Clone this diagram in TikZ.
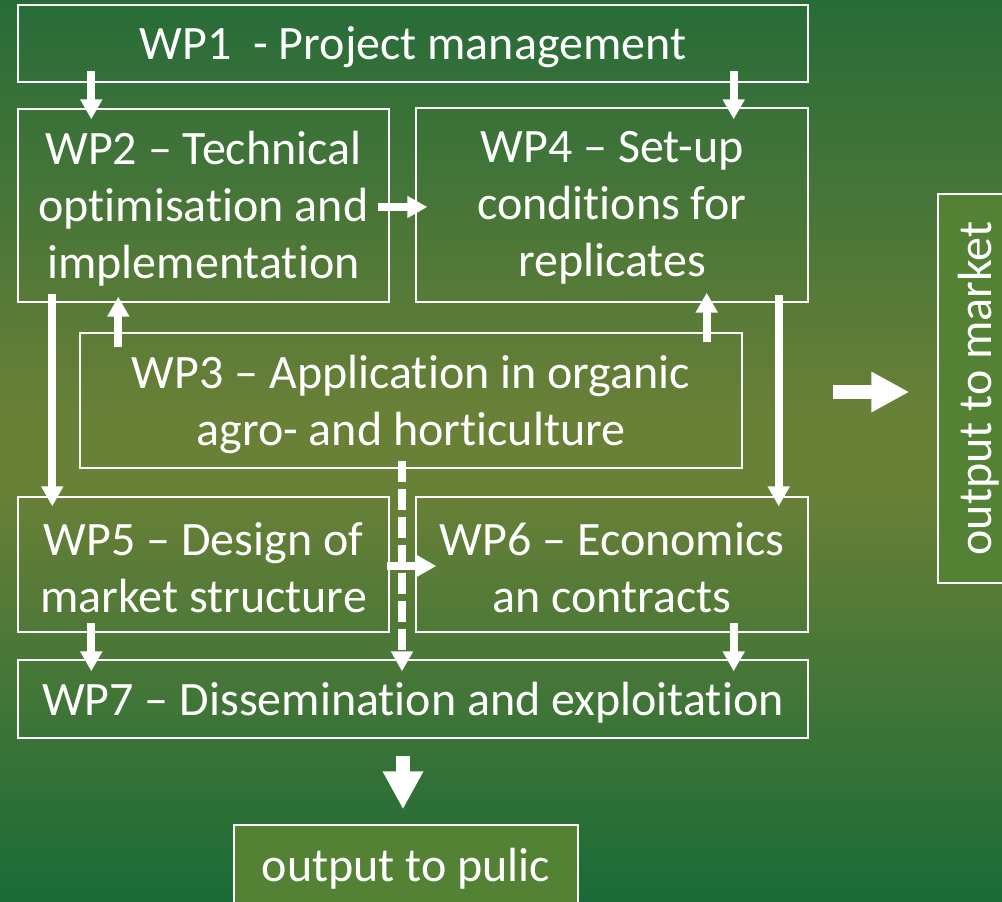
\documentclass[tikz,border=0pt]{standalone}
\usepackage{fontspec}
\setmainfont{Carlito}[RawFeature={-liga;-dlig;-clig}]
\usetikzlibrary{arrows.meta,calc}
\definecolor{bgtop}{RGB}{39,108,56}
\definecolor{bgmid}{RGB}{105,128,55}
\definecolor{bgbot}{RGB}{26,107,55}
\definecolor{outfill}{RGB}{84,130,53}
\pgfdeclareverticalshading{bgshade}{100bp}{color(0bp)=(bgbot); color(25bp)=(bgbot); color(47.8bp)=(bgmid); color(52bp)=(bgmid); color(75bp)=(bgtop); color(100bp)=(bgtop)}
\begin{document}
\begin{tikzpicture}[x=1pt,y=-1pt,
  wpbox/.style={draw=white,line width=1.4pt,inner sep=0pt},
  outbox/.style={wpbox,fill=outfill},
  txt/.style={inner sep=0pt,align=center,text=white,font=\fontsize{48}{57}\selectfont},
  arr/.style={draw=white,line width=8pt,-{Triangle[width=21pt,length=20pt]}},
  dasharr/.style={arr,dash pattern=on 21pt off 7pt},
  bigarr/.style={draw=white,line width=14pt,-{Triangle[width=38pt,length=38pt]}}]
\useasboundingbox (0,0) rectangle (1002,902);
\shade[shading=bgshade] (0,0) rectangle (1002,902);
\begin{scope}
\clip (0,0) rectangle (1002,902);
\node[wpbox,minimum width=790pt,minimum height=77pt] (wp1) at (413,43.5) {};
\node[wpbox,minimum width=371pt,minimum height=193pt] (wp2) at (203.5,205.5) {};
\node[wpbox,minimum width=392pt,minimum height=194pt] (wp4) at (612,205) {};
\node[wpbox,minimum width=662pt,minimum height=135pt] (wp3) at (411,400.5) {};
\node[wpbox,minimum width=371pt,minimum height=135pt] (wp5) at (203.5,564.5) {};
\node[wpbox,minimum width=392pt,minimum height=135pt] (wp6) at (612,564.5) {};
\node[wpbox,minimum width=790pt,minimum height=78pt] (wp7) at (413,699) {};
\node[outbox,minimum width=344pt,minimum height=80pt] (pub) at (406,865) {};
\node[outbox,minimum width=74pt,minimum height=389pt] (mkt) at (975,388.5) {};
\end{scope}
\node[txt,text depth=2pt] (wp1t) at (wp1.center) {WP1\ \ - Project management};
\node[txt] (wp2t) at ([yshift=-3pt]wp2.center) {WP2 – Technical\\optimisation and\\implementation};
\node[txt] (wp4t) at ([yshift=-3pt]wp4.center) {WP4 – Set-up\\conditions for\\replicates};
\node[txt] (wp3t) at ([yshift=-4pt]wp3.center) {WP3 – Application in organic\\agro- and horticulture};
\node[txt] (wp5t) at ([yshift=-3pt]wp5.center) {WP5 – Design of\\market structure};
\node[txt] (wp6t) at ([yshift=-3pt]wp6.center) {WP6 – Economics\\an contracts};
\node[txt] (wp7t) at ([yshift=-4pt]wp7.center) {WP7 – Dissemination and exploitation};
\node[txt] (pubt) at ([yshift=-4pt]pub.center) {output to pulic};
\node[txt,rotate=90] (mktt) at ([xshift=4pt]mkt.center) {output to market};
% arrows
\draw[arr] ([xshift=74pt,yshift=12pt]wp1.south west) -- ([xshift=74pt,yshift=-11pt]wp2.north west);
\draw[arr] ([xshift=-75pt,yshift=12pt]wp1.south east) -- ([xshift=-75pt,yshift=-12pt]wp4.north east);
\draw[arr] ([xshift=-12pt,yshift=-1.5pt]wp2.east) -- ([xshift=12pt,yshift=-2pt]wp4.west);
\draw[arr] ([xshift=39pt,yshift=-15pt]wp3.north west) -- ([xshift=101pt,yshift=6pt]wp2.south west);
\draw[arr] ([xshift=-36pt,yshift=-10pt]wp3.north east) -- ([xshift=-102pt,yshift=10pt]wp4.south east);
\draw[arr] ([xshift=35pt,yshift=9pt]wp2.south west) -- ([xshift=35pt,yshift=-10pt]wp5.north west);
\draw[arr] ([xshift=-30pt,yshift=8pt]wp4.south east) -- ([xshift=-30pt,yshift=-10pt]wp6.north east);
\draw[arr] ([xshift=-3pt,yshift=-1.5pt]wp5.east) -- ([xshift=21pt,yshift=-1.5pt]wp6.west);
\draw[dasharr] ([xshift=-9pt,yshift=8pt]wp3.south) -- ([xshift=-11pt,yshift=-12pt]wp7.north);
\draw[arr] ([xshift=74pt,yshift=10pt]wp5.south west) -- ([xshift=74pt,yshift=-12pt]wp7.north west);
\draw[arr] ([xshift=-75pt,yshift=10pt]wp6.south east) -- ([xshift=-75pt,yshift=-12pt]wp7.north east);
\draw[bigarr] ([xshift=-10pt,yshift=-17pt]wp7.south) -- ([xshift=-3pt,yshift=15pt]pub.north);
\draw[bigarr] ([xshift=90pt,yshift=8.5pt]wp3.east) -- ([xshift=-28pt,yshift=-3.5pt]mkt.west);
\end{tikzpicture}
\end{document}
